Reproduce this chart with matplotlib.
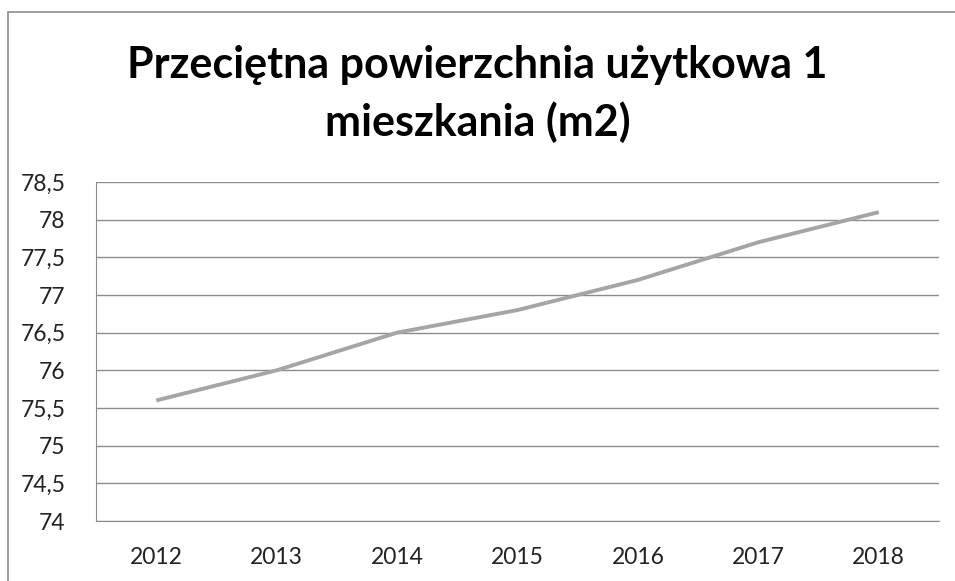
import matplotlib.pyplot as plt
from matplotlib.patches import Rectangle
from matplotlib.ticker import FuncFormatter

years = ["2012", "2013", "2014", "2015", "2016", "2017", "2018"]
area_m2 = [75.6, 76.0, 76.5, 76.8, 77.2, 77.7, 78.1]
yticks = [74, 74.5, 75, 75.5, 76, 76.5, 77, 77.5, 78, 78.5]

plt.rcParams['font.family'] = ['Lato', 'DejaVu Sans']

fig = plt.figure(figsize=(9.55, 5.81), dpi=100)
ax = fig.add_axes([96 / 955, 1 - 521 / 581, (939 - 96) / 955, (521 - 182) / 581])

x = range(len(years))
ax.plot(x, area_m2, color="#a5a5a5", linewidth=2.8, solid_capstyle="butt")

ax.set_xlim(-0.5, len(years) - 0.5)
ax.set_ylim(74, 78.5)
ax.set_yticks(yticks)
ax.yaxis.set_major_formatter(FuncFormatter(lambda v, p: ("%g" % v).replace(".", ",")))
ax.set_xticks(list(x))
ax.set_xticklabels(years)
ax.tick_params(axis="both", length=0, labelsize=16.5, colors="#000000", labelcolor="#222222")
ax.tick_params(axis="y", pad=22)
ax.tick_params(axis="x", pad=19)

ax.grid(axis="y", color="#8c8c8c", linewidth=1)
ax.set_axisbelow(True)
for s in ["top", "right"]:
    ax.spines[s].set_visible(False)
ax.spines["left"].set_color("#8c8c8c")
ax.spines["bottom"].set_color("#8c8c8c")

fig.text(0.5, 1 - 94 / 581, "Przeciętna powierzchnia użytkowa 1\nmieszkania (m2)",
         ha="center", va="center", fontsize=31, fontweight="bold", linespacing=1.45)

fig.patches.append(Rectangle((8 / 955, -0.1), 1.1, 1 - 12 / 581 + 0.1,
                             transform=fig.transFigure, fill=False,
                             edgecolor="#8c8c8c", linewidth=1.2))

fig.savefig("out.png", dpi=100)
